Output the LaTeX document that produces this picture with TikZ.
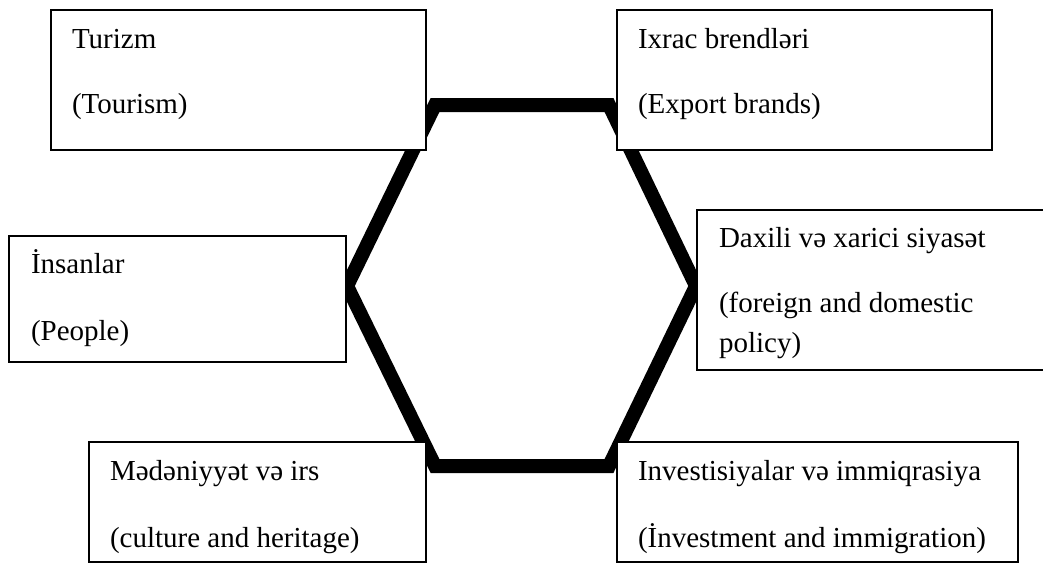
\documentclass[tikz,border=0pt]{standalone}
\usepackage{fontspec}
\setmainfont{Liberation Serif}
\usetikzlibrary{calc}
\tikzset{
  box/.style={draw=black, line width=1.2pt, fill=white, rectangle, anchor=north west, inner sep=0pt, outer sep=0pt},
  lbl/.style={anchor=base west, inner sep=0pt, outer sep=0pt, font=\fontsize{29}{35}\selectfont},
  hexline/.style={line width=14pt, line join=miter, miter limit=10}
}
\begin{document}
\begin{tikzpicture}[x=1pt, y=-1pt]
\clip (0,0) rectangle (1043,563);
\fill[white] (0,0) rectangle (1043,563);
% hexagon
\coordinate (tl) at (435,105);
\coordinate (tr) at (609,105);
\coordinate (r) at (696,286);
\coordinate (br) at (609,466);
\coordinate (bl) at (435,466);
\coordinate (l) at (347,286);
\draw[hexline] (tl) -- (tr) -- (r) -- (br) -- (bl) -- (l) -- cycle;
% boxes
\node[box, minimum width=375pt, minimum height=140pt] (tur) at (51,10) {};
\node[box, minimum width=337pt, minimum height=126pt] (ins) at (9,236) {};
\node[box, minimum width=375pt, minimum height=140pt] (ixr) at (617,10) {};
\node[box, minimum width=360pt, minimum height=160pt] (dax) at (697,210) {};
\node[box, minimum width=337pt, minimum height=120pt] (med) at (89,442) {};
\node[box, minimum width=401pt, minimum height=120pt] (inv) at (617,442) {};
% labels
\node[lbl] (tur1) at ($(tur.north west)+(21,38)$) {Turizm};
\node[lbl] (tur2) at ($(tur.north west)+(21,103)$) {(Tourism)};
\node[lbl] (ins1) at ($(ins.north west)+(22,37)$) {İnsanlar};
\node[lbl] (ins2) at ($(ins.north west)+(22,104)$) {(People)};
\node[lbl] (ixr1) at ($(ixr.north west)+(21,38)$) {Ixrac brendləri};
\node[lbl] (ixr2) at ($(ixr.north west)+(21,103)$) {(Export brands)};
\node[lbl] (dax1) at ($(dax.north west)+(22,37)$) {Daxili və xarici siyasət};
\node[lbl] (dax2) at ($(dax.north west)+(22,102)$) {(foreign and domestic};
\node[lbl] (dax3) at ($(dax.north west)+(22,142)$) {policy)};
\node[lbl] (med1) at ($(med.north west)+(21,38)$) {Mədəniyyət və irs};
\node[lbl] (med2) at ($(med.north west)+(21,105)$) {(culture and heritage)};
\node[lbl] (inv1) at ($(inv.north west)+(21,38)$) {Investisiyalar və immiqrasiya};
\node[lbl] (inv2) at ($(inv.north west)+(21,105)$) {(İnvestment and immigration)};
\end{tikzpicture}
\end{document}
